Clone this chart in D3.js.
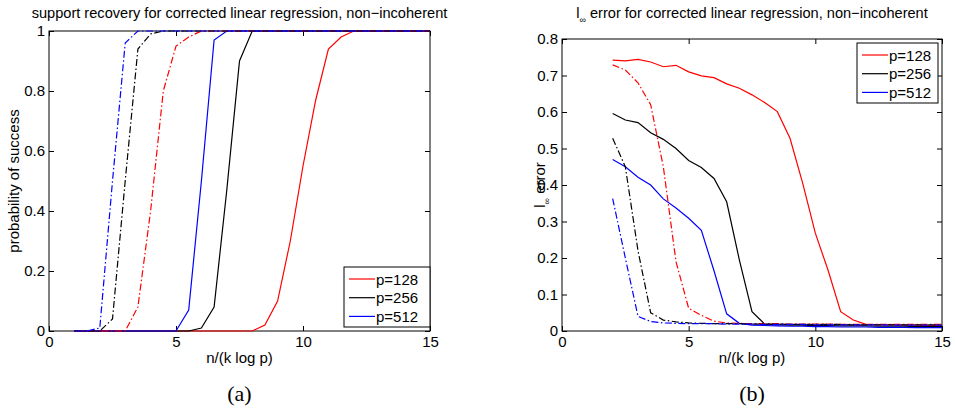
<!DOCTYPE html>
<html>
<head>
<meta charset="utf-8">
<script src="https://d3js.org/d3.v7.min.js"></script>
<style>
  body { margin: 0; background: #fff; }
  svg text { font-family: "Liberation Sans", Arial, Helvetica, sans-serif; fill: #000; }
  .tick line { stroke: #000; }
  .domain { display: none; }
</style>
</head>
<body>
<div id="chart"></div>
<script>
// ---- data: left panel, probability of success ----
const xA = [1, 1.5, 2, 2.5, 3, 3.5, 4, 4.5, 5, 5.5, 6, 6.5, 7, 7.5, 8, 8.5, 9, 9.5, 10, 10.5, 11, 11.5, 12, 12.5, 13, 13.5, 14, 14.5, 15];
const succ128 = [0, 0, 0, 0, 0, 0, 0, 0, 0, 0, 0, 0, 0, 0, 0, 0.02, 0.1, 0.3, 0.55, 0.77, 0.94, 0.98, 1, 1, 1, 1, 1, 1, 1];
const succ256 = [0, 0, 0, 0, 0, 0, 0, 0, 0, 0, 0.01, 0.08, 0.47, 0.9, 1, 1, 1, 1, 1, 1, 1, 1, 1, 1, 1, 1, 1, 1, 1];
const succ512 = [0, 0, 0, 0, 0, 0, 0, 0, 0, 0.07, 0.5, 0.97, 1, 1, 1, 1, 1, 1, 1, 1, 1, 1, 1, 1, 1, 1, 1, 1, 1];
const succ128b = [0, 0, 0, 0, 0, 0.08, 0.4, 0.8, 0.95, 0.98, 1, 1, 1, 1, 1, 1, 1, 1, 1, 1, 1, 1, 1, 1, 1, 1, 1, 1, 1];
const succ256b = [0, 0, 0, 0.04, 0.5, 0.94, 0.99, 1, 1, 1, 1, 1, 1, 1, 1, 1, 1, 1, 1, 1, 1, 1, 1, 1, 1, 1, 1, 1, 1];
const succ512b = [0, 0, 0.01, 0.5, 0.96, 1, 1, 1, 1, 1, 1, 1, 1, 1, 1, 1, 1, 1, 1, 1, 1, 1, 1, 1, 1, 1, 1, 1, 1];

// ---- data: right panel, l_inf error ----
const xB = [2, 2.5, 3, 3.5, 4, 4.5, 5, 5.5, 6, 6.5, 7, 7.5, 8, 8.5, 9, 9.5, 10, 10.5, 11, 11.5, 12, 12.5, 13, 13.5, 14, 14.5, 15];
const err128 = [0.742, 0.740, 0.744, 0.737, 0.724, 0.728, 0.710, 0.699, 0.694, 0.677, 0.665, 0.647, 0.626, 0.601, 0.528, 0.405, 0.268, 0.167, 0.053, 0.030, 0.018, 0.017, 0.017, 0.016, 0.016, 0.015, 0.015];
const err256 = [0.596, 0.578, 0.571, 0.543, 0.525, 0.500, 0.467, 0.448, 0.418, 0.354, 0.195, 0.053, 0.019, 0.017, 0.016, 0.016, 0.015, 0.015, 0.014, 0.014, 0.014, 0.013, 0.013, 0.013, 0.012, 0.012, 0.012];
const err512 = [0.470, 0.450, 0.421, 0.400, 0.362, 0.337, 0.309, 0.276, 0.165, 0.047, 0.021, 0.016, 0.015, 0.014, 0.013, 0.013, 0.012, 0.012, 0.011, 0.011, 0.011, 0.010, 0.010, 0.010, 0.009, 0.009, 0.009];
const err128b = [0.729, 0.715, 0.680, 0.620, 0.450, 0.190, 0.062, 0.043, 0.027, 0.022, 0.021, 0.020, 0.020, 0.020, 0.019, 0.019, 0.019, 0.019, 0.018, 0.018, 0.018, 0.018, 0.018, 0.018, 0.018, 0.018, 0.018];
const err256b = [0.528, 0.450, 0.220, 0.050, 0.030, 0.025, 0.022, 0.021, 0.020, 0.020, 0.020, 0.019, 0.019, 0.019, 0.018, 0.018, 0.018, 0.018, 0.018, 0.017, 0.017, 0.017, 0.017, 0.017, 0.017, 0.017, 0.017];
const err512b = [0.363, 0.200, 0.040, 0.026, 0.022, 0.021, 0.020, 0.020, 0.020, 0.019, 0.019, 0.019, 0.018, 0.018, 0.018, 0.018, 0.017, 0.017, 0.017, 0.017, 0.017, 0.017, 0.016, 0.016, 0.016, 0.016, 0.016];

const legendLabels = ["p=128", "p=256", "p=512"];
const seriesColors = ["#ff0000", "#000000", "#0000ff"];
const xTicks = [0, 5, 10, 15];
const yTicksA = [0, 0.2, 0.4, 0.6, 0.8, 1];
const yTicksB = [0, 0.1, 0.2, 0.3, 0.4, 0.5, 0.6, 0.7, 0.8];

const dashDot = "7,2.5,1.5,2.5";
const fs = "15px";

const svg = d3.select("#chart").append("svg")
  .attr("width", 955)
  .attr("height", 411)
  .style("background", "#fff");

function drawPanel(cfg) {
  const x = d3.scaleLinear().domain([0, 15]).range([cfg.left, cfg.right]);
  const y = d3.scaleLinear().domain(cfg.yDomain).range([cfg.bottom, cfg.top]);
  const g = svg.append("g");

  // ticks, inside, on all four sides
  g.append("g").attr("transform", `translate(0,${cfg.bottom})`)
    .call(d3.axisBottom(x).tickValues(xTicks).tickSize(-5).tickPadding(5).tickFormat(d3.format("d")))
    .selectAll("text").style("font-size", fs);
  g.append("g").attr("transform", `translate(0,${cfg.top})`)
    .call(d3.axisTop(x).tickValues(xTicks).tickSize(-5).tickFormat(""));
  g.append("g").attr("transform", `translate(${cfg.left},0)`)
    .call(d3.axisLeft(y).tickValues(cfg.yTicks).tickSize(-5).tickPadding(4).tickFormat(d => String(+d.toFixed(2))))
    .selectAll("text").style("font-size", fs);
  g.append("g").attr("transform", `translate(${cfg.right},0)`)
    .call(d3.axisRight(y).tickValues(cfg.yTicks).tickSize(-5).tickFormat(""));

  g.append("rect")
    .attr("x", cfg.left).attr("y", cfg.top)
    .attr("width", cfg.right - cfg.left).attr("height", cfg.bottom - cfg.top)
    .attr("fill", "none").attr("stroke", "#000").attr("stroke-width", 1);

  const line = d3.line().x(d => x(d[0])).y(d => y(d[1]));
  cfg.series.forEach(s => {
    g.append("path")
      .datum(cfg.xs.map((v, i) => [v, s.values[i]]))
      .attr("d", line)
      .attr("fill", "none")
      .attr("stroke", s.color)
      .attr("stroke-width", 1.2)
      .attr("stroke-dasharray", s.dash ? dashDot : null);
  });

  // x label
  g.append("text")
    .attr("x", (cfg.left + cfg.right) / 2).attr("y", 363)
    .attr("text-anchor", "middle").style("font-size", fs)
    .text("n/(k log p)");

  // panel letter
  g.append("text")
    .attr("x", (cfg.left + cfg.right) / 2).attr("y", 401)
    .attr("text-anchor", "middle")
    .style("font-family", "'Liberation Serif', 'DejaVu Serif', serif")
    .style("font-size", "22px")
    .text(cfg.letter);

  // legend
  const lg = cfg.legend;
  g.append("rect")
    .attr("x", lg.x).attr("y", lg.y).attr("width", lg.w).attr("height", lg.h)
    .attr("fill", "#fff").attr("stroke", "#000").attr("stroke-width", 1);
  legendLabels.forEach((lab, i) => {
    const cy = lg.y + 12 + i * 18.7;
    g.append("line")
      .attr("x1", lg.x + 5).attr("x2", lg.x + 31)
      .attr("y1", cy).attr("y2", cy)
      .attr("stroke", seriesColors[i]).attr("stroke-width", 1.2);
    g.append("text")
      .attr("x", lg.x + 32).attr("y", cy + 5.5)
      .style("font-size", fs)
      .text(lab);
  });
  return g;
}

const left = drawPanel({
  left: 49, right: 430, top: 31, bottom: 331,
  yDomain: [0, 1], yTicks: yTicksA, xs: xA, letter: "(a)",
  legend: { x: 344, y: 267, w: 86, h: 60 },
  series: [
    { values: succ128, color: seriesColors[0] },
    { values: succ256, color: seriesColors[1] },
    { values: succ512, color: seriesColors[2] },
    { values: succ128b, color: seriesColors[0], dash: true },
    { values: succ256b, color: seriesColors[1], dash: true },
    { values: succ512b, color: seriesColors[2], dash: true }
  ]
});

left.append("text")
  .attr("x", 239.5).attr("y", 18)
  .attr("text-anchor", "middle").style("font-size", "14.6px")
  .text("support recovery for corrected linear regression, non\u2212incoherent");

left.append("text")
  .attr("transform", "translate(19,181) rotate(-90)")
  .attr("text-anchor", "middle").style("font-size", fs)
  .text("probability of success");

const right = drawPanel({
  left: 562, right: 942, top: 39, bottom: 331,
  yDomain: [0, 0.8], yTicks: yTicksB, xs: xB, letter: "(b)",
  legend: { x: 857, y: 43, w: 81, h: 60 },
  series: [
    { values: err128, color: seriesColors[0] },
    { values: err256, color: seriesColors[1] },
    { values: err512, color: seriesColors[2] },
    { values: err128b, color: seriesColors[0], dash: true },
    { values: err256b, color: seriesColors[1], dash: true },
    { values: err512b, color: seriesColors[2], dash: true }
  ]
});

const t = right.append("text")
  .attr("x", 752).attr("y", 18)
  .attr("text-anchor", "middle").style("font-size", "14.6px");
t.append("tspan").text("l");
t.append("tspan").attr("dy", 5).style("font-size", "9px").text("\u221e");
t.append("tspan").attr("dy", -5).text(" error for corrected linear regression, non\u2212incoherent");

const yl = right.append("text")
  .attr("transform", "translate(545,185) rotate(-90)")
  .attr("text-anchor", "middle").style("font-size", fs);
yl.append("tspan").text("l");
yl.append("tspan").attr("dy", 5).style("font-size", "9px").text("\u221e");
yl.append("tspan").attr("dy", -5).text(" error");
</script>
</body>
</html>
